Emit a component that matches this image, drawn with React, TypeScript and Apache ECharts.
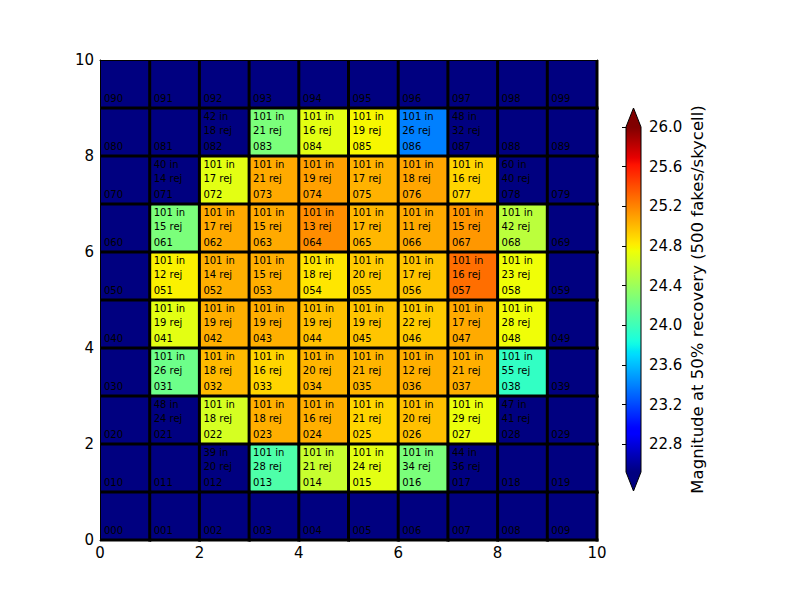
import React, { useEffect, useRef } from "react";
import * as echarts from "echarts";

// Grid rows listed from top (row 9) to bottom (row 0); columns 0..9
const ROW_ORDER = [9, 8, 7, 6, 5, 4, 3, 2, 1, 0];
const N = null;
const IN_COUNTS: (number | null)[][] = [
  [N, N, N, N, N, N, N, N, N, N],
  [N, N, 42, 101, 101, 101, 101, 48, N, N],
  [N, 40, 101, 101, 101, 101, 101, 101, 60, N],
  [N, 101, 101, 101, 101, 101, 101, 101, 101, N],
  [N, 101, 101, 101, 101, 101, 101, 101, 101, N],
  [N, 101, 101, 101, 101, 101, 101, 101, 101, N],
  [N, 101, 101, 101, 101, 101, 101, 101, 101, N],
  [N, 48, 101, 101, 101, 101, 101, 101, 47, N],
  [N, N, 39, 101, 101, 101, 101, 44, N, N],
  [N, N, N, N, N, N, N, N, N, N],
];
const REJ_COUNTS: (number | null)[][] = [
  [N, N, N, N, N, N, N, N, N, N],
  [N, N, 18, 21, 16, 19, 26, 32, N, N],
  [N, 14, 17, 21, 19, 17, 18, 16, 40, N],
  [N, 15, 17, 15, 13, 17, 11, 15, 42, N],
  [N, 12, 14, 15, 18, 20, 17, 16, 23, N],
  [N, 19, 19, 19, 19, 19, 22, 17, 28, N],
  [N, 26, 18, 16, 20, 21, 12, 21, 55, N],
  [N, 24, 18, 18, 16, 21, 20, 29, 41, N],
  [N, N, 20, 28, 21, 24, 34, 36, N, N],
  [N, N, N, N, N, N, N, N, N, N],
];
const MAG_50: (number | null)[][] = [
  [N, N, N, N, N, N, N, N, N, N],
  [N, N, N, 24.26, 24.7, 24.78, 23.39, N, N, N],
  [N, N, 24.7, 25.06, 25.1, 25.03, 25.08, 24.9, N, N],
  [N, 24.26, 25.06, 25.06, 25.17, 25.01, 25.06, 25.13, 24.53, N],
  [N, 24.8, 25.04, 25.04, 24.84, 24.94, 24.96, 25.28, 24.75, N],
  [N, 24.7, 25.04, 25.04, 24.98, 24.96, 24.94, 25.06, 24.75, N],
  [N, 24.2, 25.0, 24.9, 25.02, 25.02, 25.04, 25.04, 23.95, N],
  [N, N, 24.64, 25.04, 25.04, 24.9, 24.98, 24.73, N, N],
  [N, N, N, 24.07, 24.58, 24.7, 24.26, N, N, N],
  [N, N, N, N, N, N, N, N, N, N],
];

const COLOR_MIN = 22.52;
const COLOR_MAX = 26.0;
const COLORBAR_TICKS = [22.8, 23.2, 23.6, 24.0, 24.4, 24.8, 25.2, 25.6, 26.0];
const COLORBAR_LABEL = "Magnitude at 50% recovery (500 fakes/skycell)";

// matplotlib "jet" colormap segment data
const JET_R = [[0, 0], [0.35, 0], [0.66, 1], [0.89, 1], [1, 0.5]];
const JET_G = [[0, 0], [0.125, 0], [0.375, 1], [0.64, 1], [0.91, 0], [1, 0]];
const JET_B = [[0, 0.5], [0.11, 1], [0.34, 1], [0.65, 0], [1, 0]];
function seg(pts: number[][], t: number) {
  for (let i = 1; i < pts.length; i++) {
    if (t <= pts[i][0]) {
      const [x0, y0] = pts[i - 1];
      const [x1, y1] = pts[i];
      return y0 + ((t - x0) / (x1 - x0)) * (y1 - y0);
    }
  }
  return pts[pts.length - 1][1];
}
function jet(t: number) {
  const c = (v: number) => Math.round(Math.max(0, Math.min(1, v)) * 255);
  return `rgb(${c(seg(JET_R, t))},${c(seg(JET_G, t))},${c(seg(JET_B, t))})`;
}
const JET_STOPS = Array.from({ length: 101 }, (_, i) => jet(i / 100));
const UNDER_COLOR = jet(0);
const OVER_COLOR = jet(1);

type Cell = { row: number; col: number; nIn: number | null; nRej: number | null; mag: number | null; id: string };
const cells: Cell[] = [];
ROW_ORDER.forEach((row, ri) => {
  for (let col = 0; col < 10; col++) {
    cells.push({
      row,
      col,
      nIn: IN_COUNTS[ri][col],
      nRej: REJ_COUNTS[ri][col],
      mag: MAG_50[ri][col],
      id: `0${row}${col}`,
    });
  }
});

const FONT = "DejaVu Sans";

export default function App() {
  const ref = useRef<HTMLDivElement>(null);
  useEffect(() => {
    if (!ref.current) return;
    const chart = echarts.init(ref.current, null, { renderer: "svg" });
    const data = cells.map((c) => [c.col, c.row, c.mag == null ? COLOR_MIN - 1 : c.mag]);

    // colorbar geometry
    const cbL = 626, cbT = 127, cbW = 15, cbH = 345, tri = 19;
    const cbR = cbL + cbW, cbB = cbT + cbH, cbMid = cbL + cbW / 2;

    const axisCommon = {
      min: 0,
      max: 10,
      interval: 2,
      z: 5,
      splitLine: { show: false },
      axisLine: { show: true, onZero: false, lineStyle: { color: "#000", width: 1 } },
      axisTick: { show: true, inside: true, length: 4, lineStyle: { color: "#000" } },
    };

    chart.setOption({
      animation: false,
      backgroundColor: "#fff",
      grid: [
        { left: 100, top: 60, width: 497, height: 480 },
        { left: cbL, top: cbT, width: cbW, height: cbH },
      ],
      xAxis: [
        {
          ...axisCommon,
          type: "value",
          gridIndex: 0,
          position: "bottom",
          axisLabel: { color: "#000", fontSize: 15, fontFamily: FONT, margin: 5 },
        },
        {
          ...axisCommon,
          type: "value",
          gridIndex: 0,
          position: "top",
          axisLabel: { show: false },
        },
        { type: "value", gridIndex: 1, min: 0, max: 1, show: false },
      ],
      yAxis: [
        {
          ...axisCommon,
          type: "value",
          gridIndex: 0,
          position: "left",
          axisLabel: { color: "#000", fontSize: 15, fontFamily: FONT, margin: 6 },
        },
        {
          ...axisCommon,
          type: "value",
          gridIndex: 0,
          position: "right",
          axisLabel: { show: false },
        },
        {
          type: "value",
          gridIndex: 1,
          min: COLOR_MIN,
          max: COLOR_MAX,
          position: "right",
          z: 6,
          splitLine: { show: false },
          axisLine: { show: false },
          axisTick: {
            show: true,
            inside: true,
            length: 4,
            customValues: COLORBAR_TICKS,
            lineStyle: { color: "#000" },
          },
          axisLabel: {
            color: "#000",
            fontSize: 15,
            fontFamily: FONT,
            margin: 8,
            customValues: COLORBAR_TICKS,
            formatter: (v: number) => v.toFixed(1),
          },
          name: COLORBAR_LABEL,
          nameLocation: "middle",
          nameRotate: 90,
          nameGap: 48,
          nameTextStyle: { color: "#000", fontSize: 16.5, fontFamily: FONT },
        },
      ],
      visualMap: {
        show: false,
        type: "continuous",
        seriesIndex: 0,
        dimension: 2,
        min: COLOR_MIN,
        max: COLOR_MAX,
        inRange: { color: JET_STOPS },
        outOfRange: { color: UNDER_COLOR },
      },
      graphic: [
        {
          type: "rect",
          shape: { x: cbL, y: cbT, width: cbW, height: cbH },
          style: {
            fill: new echarts.graphic.LinearGradient(
              0,
              0,
              0,
              1,
              JET_STOPS.map((c, i) => ({ offset: 1 - i / (JET_STOPS.length - 1), color: c })).reverse()
            ),
          },
          z: 1,
        },
        {
          type: "polygon",
          shape: { points: [[cbL, cbT], [cbR, cbT], [cbMid, cbT - tri]] },
          style: { fill: OVER_COLOR },
          z: 1,
        },
        {
          type: "polygon",
          shape: { points: [[cbL, cbB], [cbR, cbB], [cbMid, cbB + tri]] },
          style: { fill: UNDER_COLOR },
          z: 1,
        },
        {
          type: "polygon",
          shape: {
            points: [
              [cbMid, cbT - tri],
              [cbR, cbT],
              [cbR, cbB],
              [cbMid, cbB + tri],
              [cbL, cbB],
              [cbL, cbT],
            ],
          },
          style: { fill: null, stroke: "#000", lineWidth: 1 },
          z: 2,
        },
      ],
      series: [
        {
          type: "custom",
          xAxisIndex: 0,
          yAxisIndex: 0,
          data,
          encode: { x: 0, y: 1 },
          z: 2,
          renderItem: (params: any, api: any) => {
            const c = cells[params.dataIndex];
            const tl = api.coord([c.col, c.row + 1]);
            const br = api.coord([c.col + 1, c.row]);
            const w = br[0] - tl[0];
            const h = br[1] - tl[1];
            const fill = c.mag == null ? UNDER_COLOR : api.visual("color");
            const tx = tl[0] + w * 0.08;
            const txt = (text: string, y: number) => ({
              type: "text",
              x: tx,
              y,
              style: {
                text,
                fill: "#000",
                fontSize: 10,
                fontFamily: FONT,
                align: "left",
                verticalAlign: "middle",
              },
            });
            const children: any[] = [
              { type: "rect", shape: { x: tl[0], y: tl[1], width: w, height: h }, style: { fill } },
            ];
            if (c.nIn != null) children.push(txt(`${c.nIn} in`, tl[1] + h * 0.17));
            if (c.nRej != null) children.push(txt(`${c.nRej} rej`, tl[1] + h * 0.47));
            children.push(txt(c.id, tl[1] + h * 0.81));
            return { type: "group", children };
          },
        },
        {
          type: "custom",
          xAxisIndex: 0,
          yAxisIndex: 0,
          data,
          encode: { x: 0, y: 1 },
          z: 3,
          silent: true,
          renderItem: (params: any, api: any) => {
            const c = cells[params.dataIndex];
            const tl = api.coord([c.col, c.row + 1]);
            const br = api.coord([c.col + 1, c.row]);
            const lw = 3;
            return {
              type: "group",
              children: [
                {
                  type: "line",
                  shape: { x1: br[0], y1: tl[1], x2: br[0], y2: br[1] + lw / 2 },
                  style: { stroke: "#000", lineWidth: lw },
                },
                {
                  type: "line",
                  shape: { x1: tl[0], y1: br[1], x2: br[0] + lw / 2, y2: br[1] },
                  style: { stroke: "#000", lineWidth: lw },
                },
              ],
            };
          },
        },
      ],
    });
    return () => chart.dispose();
  }, []);
  return (
    <div
      ref={ref}
      style={{ position: "fixed", left: 0, top: 0, width: 800, height: 600, background: "#fff" }}
    />
  );
}
